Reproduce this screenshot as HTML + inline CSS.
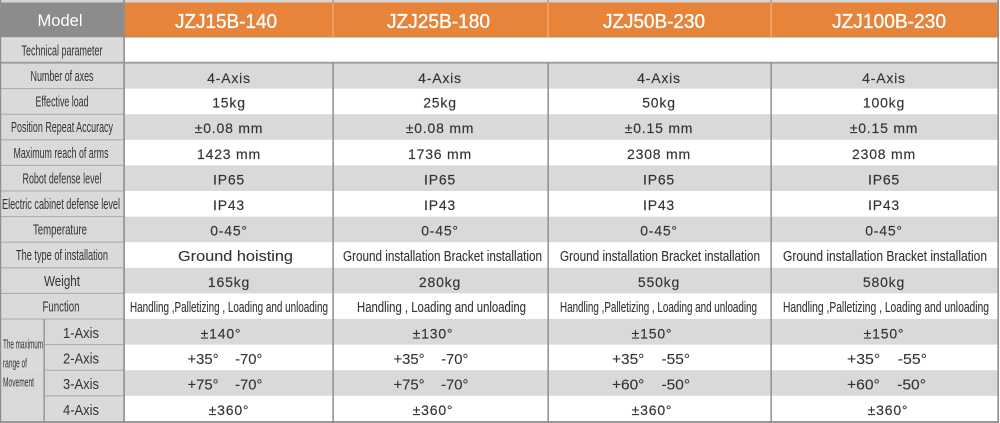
<!DOCTYPE html>
<html><head><meta charset="utf-8"><style>
html,body{margin:0;padding:0;background:#fff;}
svg{display:block;}
text{font-family:"Liberation Sans",Arial,sans-serif;}
.lab{font-size:14.5px;fill:#333;text-anchor:middle;}
.d{font-size:14px;fill:#333;text-anchor:middle;letter-spacing:0.8px;stroke:#333;stroke-width:0.15;}
.c{font-size:15px;fill:#333;text-anchor:middle;stroke:#333;stroke-width:0.1;}
.h{font-size:20px;fill:#fff;text-anchor:middle;stroke:#fff;stroke-width:0.35;}
</style></head><body>
<svg width="1000" height="423" viewBox="0 0 1000 423" xmlns="http://www.w3.org/2000/svg">
<rect x="0" y="0" width="1000" height="423" fill="#fff"/>
<rect x="0" y="0" width="999" height="2.5" fill="#d4d4d4"/>
<!-- header -->
<rect x="0" y="2.5" width="124" height="35" fill="#8c8c8c"/>
<rect x="124" y="2.5" width="875" height="35" fill="#e8843a"/>
<!-- tech row -->
<rect x="0" y="37.5" width="124" height="25" fill="#dadada"/>
<!-- data rows -->
<g>
<rect x="0" y="63" width="999" height="25.6" fill="#d9d9d9"/>
<rect x="0" y="88.6" width="124" height="25.6" fill="#dadada"/>
<rect x="0" y="114.2" width="999" height="25.6" fill="#d9d9d9"/>
<rect x="0" y="139.8" width="124" height="25.6" fill="#dadada"/>
<rect x="0" y="165.4" width="999" height="25.6" fill="#d9d9d9"/>
<rect x="0" y="191" width="124" height="25.6" fill="#dadada"/>
<rect x="0" y="216.6" width="999" height="25.6" fill="#d9d9d9"/>
<rect x="0" y="242.2" width="124" height="25.6" fill="#dadada"/>
<rect x="0" y="267.8" width="999" height="25.6" fill="#d9d9d9"/>
<rect x="0" y="293.4" width="124" height="25.6" fill="#dadada"/>
<rect x="0" y="319" width="999" height="25.6" fill="#d9d9d9"/>
<rect x="0" y="344.6" width="124" height="25.6" fill="#dadada"/>
<rect x="0" y="370.2" width="999" height="25.6" fill="#d9d9d9"/>
<rect x="0" y="395.8" width="124" height="25.6" fill="#dadada"/>
</g>
<!-- label column horizontal separators -->
<g fill="#a9a9a9">
<rect x="0" y="88.1" width="124" height="1"/>
<rect x="0" y="113.7" width="124" height="1"/>
<rect x="0" y="139.3" width="124" height="1"/>
<rect x="0" y="164.9" width="124" height="1"/>
<rect x="0" y="190.5" width="124" height="1"/>
<rect x="0" y="216.1" width="124" height="1"/>
<rect x="0" y="241.7" width="124" height="1"/>
<rect x="0" y="267.3" width="124" height="1"/>
<rect x="0" y="292.9" width="124" height="1"/>
<rect x="0" y="318.5" width="124" height="1"/>
<rect x="44" y="344.1" width="80" height="1"/>
<rect x="44" y="369.7" width="80" height="1"/>
<rect x="44" y="395.3" width="80" height="1"/>
</g>
<!-- thick lines -->
<rect x="0" y="37" width="999" height="1" fill="#c9c9c9"/>
<rect x="0" y="61.8" width="999" height="1.8" fill="#9a9a9a"/>
<rect x="0" y="421" width="999" height="2" fill="#9a9a9a"/>
<!-- vertical lines -->
<g fill="#8e8e8e">
<rect x="0" y="0" width="1.2" height="423"/>
<rect x="123.3" y="0" width="1.6" height="423"/>
<rect x="332.4" y="62" width="1.5" height="361"/>
<rect x="547.4" y="62" width="1.5" height="361"/>
<rect x="770.4" y="62" width="1.5" height="361"/>
<rect x="997.4" y="0" width="1.6" height="423"/>
<rect x="43.5" y="319" width="1.3" height="103"/>
</g>
<g fill="#a0a0a0">
<rect x="332.4" y="0" width="1.5" height="2.5"/>
<rect x="547.4" y="0" width="1.5" height="2.5"/>
<rect x="770.4" y="0" width="1.5" height="2.5"/>
</g>
<g fill="#f2b98a">
<rect x="332.6" y="2.5" width="1" height="35"/>
<rect x="547.6" y="2.5" width="1" height="35"/>
<rect x="770.6" y="2.5" width="1" height="35"/>
</g>

<!-- header text -->
<text x="60" y="26" font-size="17" fill="#fff" text-anchor="middle" textLength="45" lengthAdjust="spacingAndGlyphs">Model</text>
<text class="h" x="226" y="28" textLength="102" lengthAdjust="spacingAndGlyphs">JZJ15B-140</text>
<text class="h" x="438.5" y="28" textLength="103" lengthAdjust="spacingAndGlyphs">JZJ25B-180</text>
<text class="h" x="654" y="28" textLength="102" lengthAdjust="spacingAndGlyphs">JZJ50B-230</text>
<text class="h" x="889" y="28" textLength="114" lengthAdjust="spacingAndGlyphs">JZJ100B-230</text>

<!-- labels -->
<text class="lab" x="62" y="55.5" textLength="81" lengthAdjust="spacingAndGlyphs">Technical parameter</text>
<text class="lab" x="62" y="81" textLength="63" lengthAdjust="spacingAndGlyphs">Number of axes</text>
<text class="lab" x="62" y="106.6" textLength="53" lengthAdjust="spacingAndGlyphs">Effective load</text>
<text class="lab" x="62" y="132.2" textLength="102" lengthAdjust="spacingAndGlyphs">Position Repeat  Accuracy</text>
<text class="lab" x="61" y="157.8" textLength="95" lengthAdjust="spacingAndGlyphs">Maximum reach of arms</text>
<text class="lab" x="62" y="183.4" textLength="79" lengthAdjust="spacingAndGlyphs">Robot defense level</text>
<text class="lab" x="61" y="209" textLength="118" lengthAdjust="spacingAndGlyphs">Electric cabinet defense level</text>
<text class="lab" x="60" y="234.6" textLength="54" lengthAdjust="spacingAndGlyphs">Temperature</text>
<text class="lab" x="62" y="260.2" textLength="92" lengthAdjust="spacingAndGlyphs">The type of installation</text>
<text class="lab" x="62" y="285.8" textLength="36" lengthAdjust="spacingAndGlyphs">Weight</text>
<text class="lab" x="61" y="311.4" textLength="37" lengthAdjust="spacingAndGlyphs">Function</text>
<text x="81" y="338" font-size="14.5" fill="#333" text-anchor="middle" textLength="36" lengthAdjust="spacingAndGlyphs">1-Axis</text>
<text x="81" y="363.6" font-size="14.5" fill="#333" text-anchor="middle" textLength="36" lengthAdjust="spacingAndGlyphs">2-Axis</text>
<text x="81" y="389.2" font-size="14.5" fill="#333" text-anchor="middle" textLength="36" lengthAdjust="spacingAndGlyphs">3-Axis</text>
<text x="81" y="414.8" font-size="14.5" fill="#333" text-anchor="middle" textLength="36" lengthAdjust="spacingAndGlyphs">4-Axis</text>
<text x="3" y="348.5" font-size="12.5" fill="#333" textLength="40" lengthAdjust="spacingAndGlyphs">The maximum</text>
<text x="3" y="367.5" font-size="12.5" fill="#333" textLength="24" lengthAdjust="spacingAndGlyphs">range of</text>
<text x="3" y="386.5" font-size="12.5" fill="#333" textLength="31" lengthAdjust="spacingAndGlyphs">Movement</text>

<!-- data: row 0 Number of axes (top 63) -->
<text class="d" x="229" y="83">4-Axis</text>
<text class="d" x="440" y="83">4-Axis</text>
<text class="d" x="659" y="83">4-Axis</text>
<text class="d" x="884" y="83">4-Axis</text>
<!-- row 1 -->
<text class="d" x="229" y="107.6">15kg</text>
<text class="d" x="440" y="107.6">25kg</text>
<text class="d" x="659" y="107.6">50kg</text>
<text class="d" x="884" y="107.6">100kg</text>
<!-- row 2 -->
<text class="d" x="229" y="133.2">±0.08 mm</text>
<text class="d" x="440" y="133.2">±0.08 mm</text>
<text class="d" x="659" y="133.2">±0.15 mm</text>
<text class="d" x="884" y="133.2">±0.15 mm</text>
<!-- row 3 -->
<text class="d" x="229" y="158.8">1423 mm</text>
<text class="d" x="440" y="158.8">1736 mm</text>
<text class="d" x="659" y="158.8">2308 mm</text>
<text class="d" x="884" y="158.8">2308 mm</text>
<!-- row 4 -->
<text class="d" x="229" y="184.4">IP65</text>
<text class="d" x="440" y="184.4">IP65</text>
<text class="d" x="659" y="184.4">IP65</text>
<text class="d" x="884" y="184.4">IP65</text>
<!-- row 5 -->
<text class="d" x="229" y="210">IP43</text>
<text class="d" x="440" y="210">IP43</text>
<text class="d" x="659" y="210">IP43</text>
<text class="d" x="884" y="210">IP43</text>
<!-- row 6 -->
<text class="d" x="229" y="235.6">0-45°</text>
<text class="d" x="440" y="235.6">0-45°</text>
<text class="d" x="659" y="235.6">0-45°</text>
<text class="d" x="884" y="235.6">0-45°</text>
<!-- row 7 -->
<text class="c" x="235.5" y="261.2" textLength="115" lengthAdjust="spacingAndGlyphs">Ground hoisting</text>
<text class="c" x="442.5" y="261.2" textLength="199" lengthAdjust="spacingAndGlyphs">Ground installation Bracket installation</text>
<text class="c" x="660" y="261.2" textLength="200" lengthAdjust="spacingAndGlyphs">Ground installation Bracket installation</text>
<text class="c" x="885" y="261.2" textLength="204" lengthAdjust="spacingAndGlyphs">Ground installation Bracket installation</text>
<!-- row 8 -->
<text class="d" x="229" y="286.8">165kg</text>
<text class="d" x="440" y="286.8">280kg</text>
<text class="d" x="659" y="286.8">550kg</text>
<text class="d" x="884" y="286.8">580kg</text>
<!-- row 9 -->
<text class="c" x="229" y="312" textLength="198" lengthAdjust="spacingAndGlyphs">Handling ,Palletizing , Loading and unloading</text>
<text class="c" x="441.5" y="312" textLength="169" lengthAdjust="spacingAndGlyphs">Handling , Loading and unloading</text>
<text class="c" x="658.5" y="312" textLength="197" lengthAdjust="spacingAndGlyphs">Handling ,Palletizing , Loading and unloading</text>
<text class="c" x="886" y="312" textLength="206" lengthAdjust="spacingAndGlyphs">Handling ,Palletizing , Loading and unloading</text>
<!-- row 10 -->
<text class="d" x="221" y="338.5">±140°</text>
<text class="d" x="433" y="338.5">±130°</text>
<text class="d" x="652" y="338.5">±150°</text>
<text class="d" x="884" y="338.5">±150°</text>
<!-- row 11 -->
<text class="c" x="225" y="364" textLength="75" lengthAdjust="spacingAndGlyphs" xml:space="preserve">+35°    -70°</text>
<text class="c" x="431" y="364" textLength="75" lengthAdjust="spacingAndGlyphs" xml:space="preserve">+35°    -70°</text>
<text class="c" x="651" y="364" textLength="78" lengthAdjust="spacingAndGlyphs" xml:space="preserve">+35°    -55°</text>
<text class="c" x="887" y="364" textLength="80" lengthAdjust="spacingAndGlyphs" xml:space="preserve">+35°    -55°</text>
<!-- row 12 -->
<text class="c" x="225" y="389.6" textLength="75" lengthAdjust="spacingAndGlyphs" xml:space="preserve">+75°    -70°</text>
<text class="c" x="431" y="389.6" textLength="75" lengthAdjust="spacingAndGlyphs" xml:space="preserve">+75°    -70°</text>
<text class="c" x="651" y="389.6" textLength="78" lengthAdjust="spacingAndGlyphs" xml:space="preserve">+60°    -50°</text>
<text class="c" x="886.5" y="389.6" textLength="79" lengthAdjust="spacingAndGlyphs" xml:space="preserve">+60°    -50°</text>
<!-- row 13 -->
<text class="d" x="229" y="415">±360°</text>
<text class="d" x="433" y="415">±360°</text>
<text class="d" x="652" y="415">±360°</text>
<text class="d" x="888" y="415">±360°</text>
</svg>
</body></html>
